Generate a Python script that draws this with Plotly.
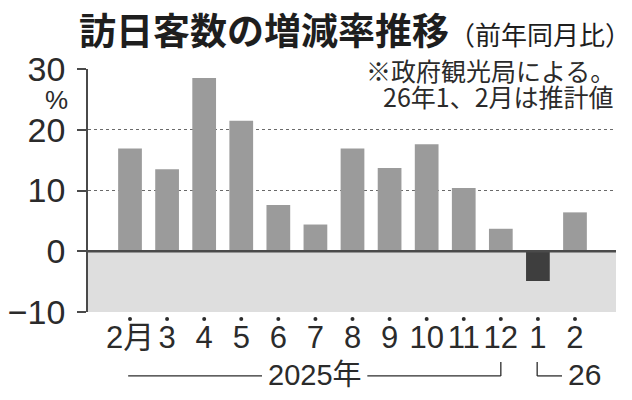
import plotly.graph_objects as go

####################################################################################################################
# DATA

months = ["2月", "3", "4", "5", "6", "7", "8", "9", "10", "11", "12", "1", "2"]
growth = [16.9, 13.5, 28.5, 21.5, 7.6, 4.4, 16.9, 13.7, 17.6, 10.4, 3.7, -4.9, 6.4]
y_ticks = [-10, 0, 10, 20, 30]
y_ticktext = ["−10", "0", "10", "20", "30"]

title_main = "訪日客数の増減率推移"
title_sub = "（前年同月比）"
note_line1 = "※政府観光局による。"
note_line2 = "26年1、2月は推計値"

####################################################################################################################
# FIGURE
# (the page adds an 8px body margin, so the figure is 8px smaller than the window)

JP = "Noto Sans CJK JP"
NUM = "Liberation Sans, Noto Sans CJK JP"
INK = "#2b2b2b"

x = list(range(len(months)))
bar_colors = ["#3e3e3e" if v < 0 else "#9b9b9b" for v in growth]

fig = go.Figure()
fig.add_trace(go.Bar(x=x, y=growth, width=0.64, marker=dict(color=bar_colors, line_width=0),
                     hoverinfo="skip"))

# shaded negative band + zero line
fig.add_shape(type="rect", xref="paper", x0=0, x1=1, yref="y", y0=-10, y1=0,
              fillcolor="#dedede", line_width=0, layer="between")
fig.add_shape(type="line", xref="paper", x0=0, x1=1, yref="y", y0=0, y1=0,
              line=dict(color="#4a4a4a", width=2.5), layer="above")

# little dots under each month
for i in x:
    fig.add_shape(type="circle", xref="x", yref="paper", xsizemode="pixel", ysizemode="pixel",
                  xanchor=i, yanchor=-0.029, x0=-2, x1=2, y0=-2, y1=2,
                  fillcolor=INK, line_width=0)

# year brackets under the axis
line_style = dict(color=INK, width=1.3)
yb, yt = -0.263, -0.206
fig.add_shape(type="line", xref="x", yref="paper", x0=-0.05, x1=3.56, y0=yb, y1=yb, line=line_style)
fig.add_shape(type="line", xref="x", yref="paper", x0=6.4, x1=10.0, y0=yb, y1=yb, line=line_style)
fig.add_shape(type="line", xref="x", yref="paper", x0=10.0, x1=10.0, y0=yb, y1=yt, line=line_style)
fig.add_shape(type="line", xref="x", yref="paper", x0=10.98, x1=10.98, y0=yb, y1=yt, line=line_style)
fig.add_shape(type="line", xref="x", yref="paper", x0=10.98, x1=11.65, y0=yb, y1=yb, line=line_style)

fig.add_annotation(x=4.98, xref="x", y=-0.258, yref="paper", text="2025年", showarrow=False,
                   font=dict(family=NUM, size=29, color=INK), xanchor="center", yanchor="middle")
fig.add_annotation(x=11.75, xref="x", y=-0.258, yref="paper", text="26", showarrow=False,
                   font=dict(family=NUM, size=30, color=INK), xanchor="left", yanchor="middle")

# title
fig.add_annotation(x=0, xref="paper", xshift=-11, y=1.165, yref="paper", showarrow=False,
                   xanchor="left", yanchor="middle",
                   text=f"<b>{title_main}</b><span style='font-size:26px'>{title_sub}</span>",
                   font=dict(family=JP, size=37, color="#1e1e1e"))
# source note: first line hides the 30 gridline behind it
fig.add_annotation(x=1, xref="paper", y=0.995, yref="paper", showarrow=False,
                   xanchor="right", yanchor="middle", text=note_line1,
                   font=dict(family=JP, size=25, color=INK), bgcolor="white", borderpad=0)
fig.add_annotation(x=1, xref="paper", y=0.89, yref="paper", showarrow=False,
                   xanchor="right", yanchor="middle", text=note_line2,
                   font=dict(family=JP, size=25, color=INK))
# unit
fig.add_annotation(x=0, xref="paper", y=24.9, yref="y", text="%", showarrow=False,
                   xanchor="right", yanchor="middle", xshift=-18,
                   font=dict(family=NUM, size=26, color=INK))

fig.update_xaxes(range=[-1.133, 13.106], tickvals=x, ticktext=months, showgrid=False,
                 zeroline=False, showline=False, ticks="", ticklabelstandoff=4, tickangle=0,
                 tickfont=dict(family=NUM, size=31, color=INK), fixedrange=True,
                 automargin=False)
fig.update_yaxes(range=[-10, 30], tickvals=y_ticks, ticktext=y_ticktext,
                 showgrid=True, gridcolor="#6a6a6a", griddash="dot", gridwidth=1.3,
                 zeroline=False, showline=True, linecolor="#4a4a4a", linewidth=1.5,
                 ticks="outside", ticklen=9, tickwidth=1.5, tickcolor="#4a4a4a",
                 ticklabelstandoff=5, automargin=False,
                 tickfont=dict(family=NUM, size=34, color=INK), fixedrange=True)

fig.update_layout(width=624, height=392, margin=dict(l=80, r=16, t=61, b=88),
                  plot_bgcolor="white", paper_bgcolor="white", showlegend=False)

fig.write_html("out.html")
